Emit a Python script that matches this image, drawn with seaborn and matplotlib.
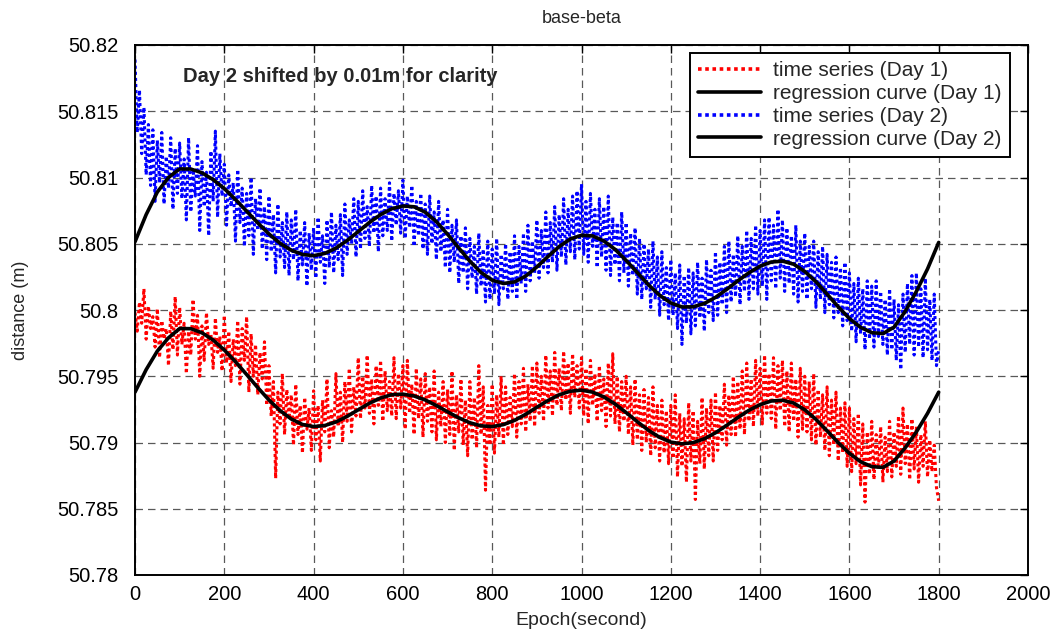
import numpy as np
import pandas as pd
import matplotlib
matplotlib.use("Agg")
import matplotlib.pyplot as plt
import seaborn as sns
from matplotlib.lines import Line2D

# ---------------- data ----------------
BASE = 50.78  # metres; series below are given in mm above this base

# noisy time series, sampled every 5 s
epoch_ts = list(range(0, 1801, 5))
day1_mm = [
    19.8, 18.4, 20.6, 19.0, 21.6, 17.8, 20.3, 18.6, 19.5, 17.2,
    20.1, 16.4, 19.2, 17.8, 18.6, 15.8, 19.9, 17.0, 21.0, 16.6,
    20.2, 17.4, 19.0, 15.2, 18.4, 16.6, 20.8, 17.8, 19.6, 15.0,
    18.8, 16.2, 19.8, 17.4, 18.2, 15.6, 19.4, 16.8, 18.0, 15.4,
    19.6, 16.0, 18.4, 14.6, 17.8, 15.8, 19.2, 14.4, 18.6, 16.2,
    19.5, 13.8, 18.2, 15.0, 17.4, 13.6, 16.8, 14.8, 17.6, 12.8,
    15.8, 12.0, 14.6, 7.3, 13.8, 11.4, 15.2, 10.6, 14.0, 11.8,
    13.6, 9.8, 14.4, 10.6, 12.8, 9.2, 13.4, 11.0, 12.6, 9.4,
    13.9, 10.2, 12.8, 8.6, 13.2, 10.8, 14.8, 9.6, 12.4, 10.4,
    15.2, 11.2, 13.8, 10.0, 14.6, 11.6, 15.6, 10.8, 14.2, 12.0,
    16.4, 11.8, 15.0, 12.6, 16.6, 12.2, 14.8, 11.4, 15.8, 12.8,
    16.2, 11.6, 15.4, 12.4, 14.6, 12.0, 16.4, 11.8, 15.2, 12.6,
    15.8, 11.0, 16.2, 12.2, 14.4, 10.6, 15.6, 11.8, 14.8, 10.4,
    15.2, 11.6, 14.2, 10.8, 15.4, 10.2, 13.8, 11.2, 14.6, 10.0,
    14.0, 10.6, 15.4, 9.4, 13.6, 10.8, 14.8, 9.8, 13.2, 9.0,
    14.6, 10.2, 13.4, 9.6, 15.8, 10.6, 14.2, 6.4, 12.8, 9.8,
    14.4, 9.2, 13.6, 10.4, 15.0, 9.8, 14.2, 10.6, 13.4, 11.2,
    15.2, 10.4, 14.6, 11.4, 15.6, 10.8, 14.4, 11.6, 15.8, 11.2,
    16.0, 12.2, 15.0, 11.6, 16.6, 12.6, 15.4, 12.0, 16.8, 12.8,
    15.6, 12.4, 16.9, 13.2, 16.0, 12.2, 16.7, 13.4, 15.8, 12.6,
    16.4, 12.0, 15.6, 11.4, 16.2, 12.8, 15.2, 11.6, 15.8, 12.4,
    14.8, 11.2, 16.0, 12.0, 16.7, 11.4, 15.0, 10.8, 14.6, 11.6,
    15.0, 10.6, 14.2, 9.8, 14.8, 10.2, 13.6, 9.4, 14.0, 10.0,
    13.4, 9.0, 14.2, 9.6, 12.8, 8.6, 13.2, 9.2, 12.4, 8.4,
    12.8, 8.8, 13.6, 7.4, 12.2, 8.2, 11.8, 7.0, 13.0, 8.6,
    12.4, 5.7, 11.6, 8.4, 13.4, 8.0, 12.6, 9.0, 13.2, 8.6,
    13.8, 9.4, 12.8, 10.2, 14.4, 9.8, 13.6, 10.6, 15.0, 10.4,
    14.6, 11.0, 15.4, 10.6, 16.0, 11.6, 14.8, 11.2, 16.2, 12.0,
    15.6, 11.4, 16.6, 12.2, 15.2, 11.8, 16.4, 11.0, 15.8, 12.4,
    16.2, 11.2, 15.4, 10.8, 16.0, 11.6, 14.8, 10.4, 15.6, 11.0,
    15.0, 10.8, 14.6, 10.2, 15.2, 9.8, 14.0, 10.4, 13.6, 9.4,
    14.2, 9.0, 13.2, 9.8, 13.8, 8.6, 12.6, 9.2, 13.0, 8.2,
    12.6, 7.8, 11.8, 8.4, 12.2, 6.8, 11.4, 5.5, 10.8, 7.6,
    11.6, 7.2, 10.6, 8.0, 11.2, 7.0, 10.4, 7.8, 11.6, 7.4,
    10.8, 8.2, 12.0, 7.6, 12.6, 8.4, 11.4, 7.2, 11.8, 8.0,
    11.2, 7.0, 10.6, 8.2, 11.6, 7.4, 10.2, 7.8, 9.8, 6.6,
    5.6,
]
day2_mm = [
    38.9, 33.4, 36.6, 31.8, 35.3, 30.2, 34.0, 29.4, 33.6, 28.2,
    32.8, 29.6, 33.4, 28.0, 31.6, 29.2, 33.0, 27.6, 32.2, 28.8,
    32.6, 28.4, 31.4, 26.8, 33.0, 27.4, 30.6, 28.6, 32.4, 26.0,
    31.2, 27.8, 30.4, 25.6, 32.0, 28.2, 33.5, 27.0, 31.8, 28.6,
    31.0, 26.4, 30.2, 27.8, 29.6, 25.2, 30.6, 26.6, 29.2, 24.8,
    28.8, 25.6, 30.0, 24.2, 28.4, 26.0, 29.2, 24.6, 27.8, 23.8,
    28.6, 24.4, 27.2, 22.8, 28.0, 24.0, 26.6, 23.2, 27.4, 22.6,
    26.8, 23.8, 27.6, 22.2, 26.0, 23.4, 26.6, 21.8, 25.8, 23.0,
    26.2, 22.4, 27.0, 23.6, 25.6, 22.0, 26.8, 23.2, 27.4, 22.8,
    26.4, 23.8, 27.2, 22.6, 28.0, 24.2, 26.8, 25.0, 28.4, 24.0,
    28.2, 24.6, 29.0, 25.4, 27.8, 24.8, 29.4, 25.8, 28.6, 24.4,
    29.2, 25.6, 28.4, 26.0, 29.6, 25.2, 28.8, 26.4, 29.0, 25.8,
    29.8, 25.4, 28.6, 26.2, 29.4, 24.8, 28.2, 25.6, 28.8, 24.6,
    28.0, 24.2, 28.6, 25.0, 27.4, 23.8, 28.2, 24.4, 26.8, 23.2,
    27.6, 22.8, 26.4, 23.6, 26.8, 22.0, 25.6, 22.8, 26.2, 21.6,
    25.4, 22.4, 24.8, 21.2, 25.8, 21.8, 24.6, 20.6, 25.2, 20.8,
    24.6, 21.2, 25.4, 20.4, 24.2, 21.6, 25.0, 20.8, 24.4, 21.4,
    25.6, 20.8, 24.8, 22.0, 25.8, 21.4, 26.4, 22.2, 25.2, 22.8,
    26.8, 22.4, 26.0, 23.2, 27.4, 22.8, 26.6, 23.6, 27.8, 23.0,
    27.2, 24.0, 28.4, 23.4, 27.6, 24.4, 28.6, 23.8, 29.0, 24.6,
    29.5, 24.2, 28.2, 23.6, 28.8, 24.8, 27.6, 23.2, 28.4, 24.0,
    27.8, 23.0, 28.6, 22.6, 27.0, 23.4, 26.6, 22.2, 27.4, 22.8,
    26.6, 21.8, 25.8, 22.6, 26.2, 21.2, 25.4, 20.8, 25.0, 21.6,
    24.6, 20.2, 25.2, 20.8, 24.0, 19.6, 24.4, 20.4, 23.2, 19.2,
    23.8, 19.6, 22.8, 18.6, 23.4, 17.4, 22.6, 19.0, 23.2, 18.2,
    22.8, 18.8, 23.6, 19.4, 22.4, 18.4, 23.8, 19.8, 23.0, 19.2,
    24.4, 19.6, 23.6, 20.4, 24.8, 19.8, 25.2, 20.6, 24.2, 21.0,
    25.6, 20.4, 24.8, 21.4, 26.0, 20.8, 25.4, 21.6, 26.4, 21.2,
    26.0, 21.8, 26.8, 20.8, 27.0, 22.2, 26.4, 21.6, 27.6, 22.4,
    26.8, 21.4, 26.2, 22.0, 25.6, 21.2, 26.4, 20.6, 25.2, 21.4,
    25.8, 20.8, 24.8, 21.6, 25.2, 20.2, 24.4, 20.8, 24.8, 19.8,
    24.2, 20.4, 23.6, 19.4, 24.0, 19.8, 23.2, 18.8, 23.6, 19.2,
    22.8, 18.4, 22.0, 17.6, 22.4, 18.2, 21.6, 17.0, 22.2, 17.8,
    21.8, 17.2, 22.2, 18.0, 21.4, 17.4, 20.8, 16.6, 21.6, 17.0,
    20.8, 16.2, 20.4, 15.5, 21.2, 16.8, 22.0, 17.4, 22.6, 16.6,
    22.8, 17.2, 21.6, 16.4, 22.4, 17.0, 20.8, 16.2, 21.2, 15.8,
    17.0,
]

# regression curves, sampled every 25 s
epoch_reg = list(range(0, 1801, 25))
reg1_mm = [
    13.8, 15.5, 16.9, 17.9, 18.6, 18.59, 18.28, 17.73,
    16.98, 16.10, 15.13, 14.14, 13.21, 12.41, 11.77, 11.36,
    11.20, 11.28, 11.55, 11.97, 12.47, 12.96, 13.36, 13.61,
    13.65, 13.51, 13.21, 12.79, 12.32, 11.86, 11.49, 11.26,
    11.20, 11.35, 11.67, 12.13, 12.66, 13.17, 13.60, 13.87,
    13.95, 13.80, 13.44, 12.91, 12.26, 11.57, 10.92, 10.39,
    10.03, 9.90, 9.99, 10.28, 10.73, 11.29, 11.88, 12.43,
    12.86, 13.13, 13.19, 12.98, 12.47, 11.75, 10.88, 9.99,
    9.18, 8.55, 8.18, 8.12, 8.6, 9.6, 10.8, 12.2,
    13.8,
]
reg2_mm = [
    25.15, 27.2, 28.9, 30.0, 30.65, 30.64, 30.35, 29.84,
    29.16, 28.34, 27.46, 26.57, 25.74, 25.03, 24.51, 24.19,
    24.10, 24.27, 24.67, 25.24, 25.92, 26.60, 27.20, 27.64,
    27.85, 27.79, 27.38, 26.66, 25.72, 24.69, 23.68, 22.83,
    22.25, 22.0, 22.12, 22.56, 23.25, 24.04, 24.79, 25.36,
    25.64, 25.59, 25.21, 24.58, 23.74, 22.82, 21.90, 21.11,
    20.53, 20.23, 20.24, 20.49, 20.95, 21.55, 22.20, 22.81,
    23.31, 23.62, 23.69, 23.46, 22.91, 22.13, 21.20, 20.24,
    19.36, 18.69, 18.29, 18.22, 18.7, 19.9, 21.4, 23.1,
    25.1,
]

x_ticks = [0, 200, 400, 600, 800, 1000, 1200, 1400, 1600, 1800, 2000]
y_ticks = [50.78, 50.785, 50.79, 50.795, 50.8, 50.805, 50.81, 50.815, 50.82]
y_tick_labels = ["50.78", "50.785", "50.79", "50.795", "50.8", "50.805",
                 "50.81", "50.815", "50.82"]
legend_labels = ["time series (Day 1)", "regression curve (Day 1)",
                 "time series (Day 2)", "regression curve (Day 2)"]

ts = pd.DataFrame({"epoch": epoch_ts,
                   "day1": BASE + np.array(day1_mm) / 1000.0,
                   "day2": BASE + np.array(day2_mm) / 1000.0})
reg = pd.DataFrame({"epoch": epoch_reg,
                    "day1": BASE + np.array(reg1_mm) / 1000.0,
                    "day2": BASE + np.array(reg2_mm) / 1000.0})

# ---------------- figure ----------------
sns.set_style("white")
plt.rcParams["font.family"] = ["Liberation Sans", "DejaVu Sans"]

fig = plt.figure(figsize=(10.59, 6.35), dpi=100)
ax = fig.add_axes([135 / 1059, 1 - 575 / 635, (1028 - 135) / 1059, (575 - 45) / 635])

dot = (0, (1.0, 1.0))
ts_lw = 2.2
sns.lineplot(data=ts, x="epoch", y="day1", ax=ax, color="#ff0000",
             linewidth=ts_lw, linestyle=dot, sort=False, estimator=None)
sns.lineplot(data=reg, x="epoch", y="day1", ax=ax, color="black",
             linewidth=2.6, sort=False, estimator=None)
sns.lineplot(data=ts, x="epoch", y="day2", ax=ax, color="#0000ff",
             linewidth=ts_lw, linestyle=dot, sort=False, estimator=None)
sns.lineplot(data=reg, x="epoch", y="day2", ax=ax, color="black",
             linewidth=2.6, sort=False, estimator=None)

ax.set_xlim(0, 2000)
ax.set_ylim(50.78, 50.82)
ax.set_xticks(x_ticks)
ax.set_xticklabels([str(t) for t in x_ticks])
ax.set_yticks(y_ticks)
ax.set_yticklabels(y_tick_labels)
ax.tick_params(direction="in", top=True, right=True, length=6, width=1,
               labelsize=14.5, colors="black")
ax.tick_params(axis="y", pad=12)
ax.tick_params(axis="x", pad=7)
ax.grid(True, linestyle=(0, (6, 4)), color="0.35", linewidth=0.9)
for s in ax.spines.values():
    s.set_visible(True)
    s.set_color("black")
    s.set_linewidth(1.4)

ax.set_xlabel("Epoch(second)", fontsize=14, labelpad=6)
ax.set_ylabel("distance (m)", fontsize=13, labelpad=20)
ax.set_title("base-beta", fontsize=13, pad=16)

ax.text(107, 50.8176, "Day 2 shifted by 0.01m for clarity", fontsize=14.5,
        fontweight="bold", va="center", ha="left")

handles = [
    Line2D([], [], color="#ff0000", linewidth=2.6, linestyle=dot),
    Line2D([], [], color="black", linewidth=2.6),
    Line2D([], [], color="#0000ff", linewidth=2.6, linestyle=dot),
    Line2D([], [], color="black", linewidth=2.6),
]
leg = ax.legend(handles, legend_labels, loc="upper right",
                bbox_to_anchor=((1010 - 135) / 893, (575 - 53) / 530),
                borderaxespad=0, fontsize=15, frameon=True, fancybox=False,
                framealpha=1, edgecolor="black", handlelength=3.0,
                handletextpad=0.6, labelspacing=0.18, borderpad=0.4)
leg.get_frame().set_linewidth(1.4)

fig.savefig("out.png", dpi=100)
